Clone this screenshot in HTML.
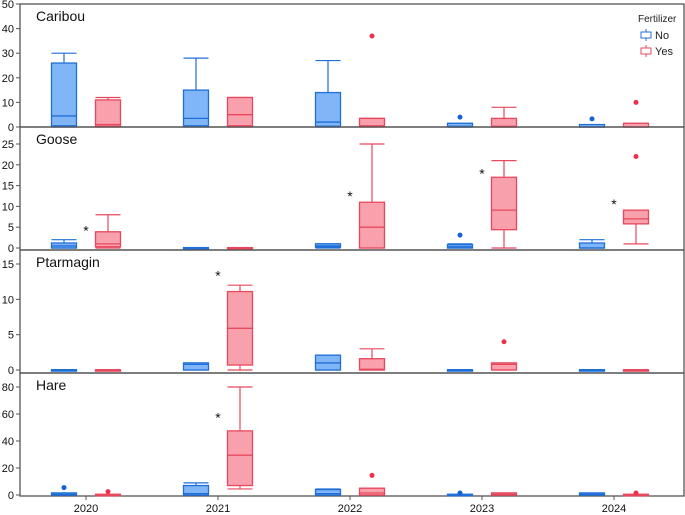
<!DOCTYPE html>
<html><head><meta charset="utf-8">
<style>
body{margin:0;background:#fff;}
svg{display:block;font-family:"Liberation Sans",sans-serif;}
</style></head>
<body>
<svg id="chart" width="685" height="515" viewBox="0 0 685 515"></svg>
<script>
// Categories
const years = ["2020","2021","2022","2023","2024"];
const groups = ["No","Yes"];
// Panels: name, y max, ticks
const panelNames = ["Caribou","Goose","Ptarmagin","Hare"];
const panelMax = [50,27,15,85];
const panelTicks = [[0,10,20,30,40,50],[0,5,10,15,20,25],[0,5,10,15],[0,20,40,60,80]];
// Box stats per panel: [year][group] = [lowWhisker,q1,median,q3,highWhisker]
const caribouStats = [
 [[0,0.5,4.5,26,30],[0,0.3,1,11,12]],
 [[0,0.5,3.5,15,28],[0,0.5,5,12,12]],
 [[0,0.3,2,14,27],[0,0.3,0.5,3.5,3.5]],
 [[0,0,0.3,1.5,1.5],[0,0,0.3,3.5,8]],
 [[0,0,0,1,1],[0,0,0,1.5,1.5]]
];
const gooseStats = [
 [[0,0,0.5,1.2,2],[0,0.3,1,3.9,8]],
 [[0,0,0,0.1,0.1],[0,0,0,0.1,0.1]],
 [[0,0.2,0.5,1,1],[0,0,5,11,25]],
 [[0,0,0.3,0.8,1],[0,4.4,9.1,17,21]],
 [[0,0,0,1.2,2],[1,5.8,7,9.1,9.1]]
];
const ptarmStats = [
 [[0,0,0,0.05,0.05],[0,0,0,0.05,0.05]],
 [[0,0,0.8,1,1],[0,0.7,5.9,11.1,12]],
 [[0,0,1,2.1,2.1],[0,0,0.1,1.6,3]],
 [[0,0,0,0.05,0.05],[0,0,0.8,1,1]],
 [[0,0,0,0.05,0.05],[0,0,0,0.05,0.05]]
];
const hareStats = [
 [[0,0,0.5,1.5,1.5],[0,0,0,0.5,0.5]],
 [[0,0,1,7,9],[4.5,7,29.5,47.5,80]],
 [[0,0,1,4,4.5],[0,0,1.5,5,5]],
 [[0,0,0,0.5,0.5],[0,0,0.5,1.5,1.5]],
 [[0,0,0.5,1.5,1.5],[0,0,0,0.5,0.5]]
];
// Outliers: [panel, yearIndex, groupIndex, value]
const outliers = [
 [0,2,1,37],[0,3,0,4],[0,4,0,3.3],[0,4,1,10],
 [1,3,0,3.1],[1,4,1,22],
 [2,3,1,4],
 [3,0,0,5.5],[3,0,1,2.5],[3,2,1,14.5],[3,3,0,1.5],[3,4,1,1.5]
];
// Significance stars: [panel, yearIndex, value]
const stars = [[1,0,4.5],[1,2,12.7],[1,3,18.2],[1,4,10.8],[2,1,13.5],[3,1,58]];

const allStats=[caribouStats,gooseStats,ptarmStats,hareStats];
const panelTop=[4,127,250,373], panelZero=[127,248,370,495];
const plotL=20, plotR=684;
const stroke=["#1f6fd8","#e8485e"], fill=["#80b6f8","#f8a0ab"], edge=["#a9cdf9","#f9c0c8"];
const svg=document.getElementById('chart');
const NS="http://www.w3.org/2000/svg";
function mk(t,a,p){const e=document.createElementNS(NS,t);for(const k in a)e.setAttribute(k,a[k]);(p||svg).appendChild(e);return e;}
function xYear(i){return 86+i*132;}
function xBox(i,g){return xYear(i)+(g===0?-22:22);}
function yScale(p,v){const z=panelZero[p];const top=panelTop[p];const h=(p===0)?(127-4):(p===1?(248-144)*27/25:(p===2?(370-264)*15/15:(495-387)*85/80));return z-v/panelMax[p]*h;}

for(let p=0;p<4;p++){
  const g=mk('g',{});
  
  
  const bottom=p<3?panelTop[p+1]:496;
  const fr=mk('rect',{x:plotL,y:panelTop[p],width:plotR-plotL,height:bottom-panelTop[p],fill:'none',stroke:'#555','stroke-width':1.3},g);
  
  
  const t=mk('text',{x:36,y:panelTop[p]+17,'font-size':14,fill:'#111'},g);
  t.textContent=panelNames[p];
  
  
  panelTicks[p].forEach(v=>{
    const y=yScale(p,v);
    mk('line',{x1:plotL-4,x2:plotL,y1:y,y2:y,stroke:'#555'},g);
    const tl=mk('text',{x:plotL-6,y:y+4,'font-size':11,'text-anchor':'end',fill:'#111'},g);
    tl.textContent=v;
    
    
  });
  allStats[p].forEach((yr,i)=>{
    yr.forEach((s,gi)=>{
      const cx=xBox(i,gi), w=25;
      const bg=mk('g',{},g);
      
      
      const c=stroke[gi];
      mk('line',{x1:cx,x2:cx,y1:yScale(p,s[3]),y2:yScale(p,s[4]),stroke:c,'stroke-width':1.2},bg);
      mk('line',{x1:cx,x2:cx,y1:yScale(p,s[1]),y2:yScale(p,s[0]),stroke:c,'stroke-width':1.2},bg);
      mk('line',{x1:cx-w/2,x2:cx+w/2,y1:yScale(p,s[4]),y2:yScale(p,s[4]),stroke:c,'stroke-width':1.2},bg);
      mk('line',{x1:cx-w/2,x2:cx+w/2,y1:yScale(p,s[0]),y2:yScale(p,s[0]),stroke:c,'stroke-width':1.2},bg);
      const yq3=yScale(p,s[3]), yq1=yScale(p,s[1]);
      mk('rect',{x:cx-w/2,y:yq3,width:w,height:Math.max(1.5,yq1-yq3),fill:fill[gi],stroke:c,'stroke-width':1.3},bg);
      mk('line',{x1:cx-w/2,x2:cx+w/2,y1:yScale(p,s[2]),y2:yScale(p,s[2]),stroke:c,'stroke-width':1.3},bg);
    });
  });
}
outliers.forEach(o=>{
  const c=mk('circle',{cx:xBox(o[1],o[2]),cy:yScale(o[0],o[3]),r:2.5,fill:o[2]===0?'#1660d8':'#f0304a'});
  
  
});
stars.forEach(s=>{
  const t=mk('text',{x:xYear(s[1]),y:yScale(s[0],s[2])+6,'font-size':14,'text-anchor':'middle',fill:'#111'});
  t.textContent='*';
  
  
});
years.forEach((yv,i)=>{
  const x=xYear(i);
  mk('line',{x1:x,x2:x,y1:496,y2:500,stroke:'#555'});
  const t=mk('text',{x:x,y:512,'font-size':11,'text-anchor':'middle',fill:'#111'});
  t.textContent=yv;
  
  
});
// legend
const lg=mk('g',{});


const lt=mk('text',{x:638,y:22,'font-size':10,fill:'#222'},lg);
lt.textContent='Fertilizer';
groups.forEach((gname,gi)=>{
  const y=35+gi*16;
  const e=mk('g',{},lg);
  
  
  mk('line',{x1:646,x2:646,y1:y-6,y2:y+6,stroke:stroke[gi]},e);
  mk('rect',{x:641,y:y-3,width:10,height:6,fill:'#fff',stroke:stroke[gi]},e);
  const t=mk('text',{x:655,y:y+4,'font-size':11,fill:'#222'},e);
  t.textContent=gname;
});
</script>
</body></html>
